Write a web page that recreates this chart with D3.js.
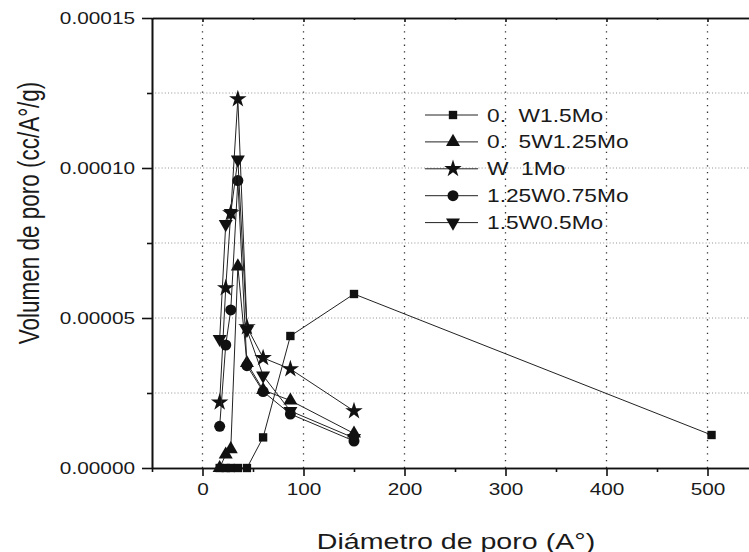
<!DOCTYPE html>
<html><head><meta charset="utf-8">
<script src="https://cdn.jsdelivr.net/npm/d3@7"></script>
<style>body{margin:0;background:#fff}svg{display:block}text{font-family:"Liberation Sans",Arial,sans-serif;fill:#1a1a1a}</style>
</head><body>
<script>
const poreDiameters = [17, 23, 28, 35, 44, 60, 87, 150, 504];
const seriesNames = ["0.  W1.5Mo", "0.  5W1.25Mo", "W  1Mo", "1.25W0.75Mo", "1.5W0.5Mo"];
const seriesSymbols = ["square", "triangle", "star", "circle", "triangleDown"];
const sW05Mo15   = [0, 0, 0, 0, 0, 1.02e-5, 4.4e-5, 5.8e-5, 1.1e-5];
const sW075Mo125 = [0, 4.5e-6, 6.3e-6, 6.72e-5, 3.5e-5, 2.6e-5, 2.25e-5, 1.15e-5];
const sW1Mo1     = [2.19e-5, 6.0e-5, 8.5e-5, 1.23e-4, 4.7e-5, 3.67e-5, 3.3e-5, 1.9e-5];
const sW125Mo075 = [1.39e-5, 4.1e-5, 5.27e-5, 9.58e-5, 3.41e-5, 2.55e-5, 1.8e-5, 9e-6];
const sW15Mo05   = [4.3e-5, 8.13e-5, 8.5e-5, 1.028e-4, 4.6e-5, 3.08e-5, 1.9e-5, 1.0e-5];
const seriesValues = [sW05Mo15, sW075Mo125, sW1Mo1, sW125Mo075, sW15Mo05];
const xMajorTicks = [0, 100, 200, 300, 400, 500];
const xMinorTicks = [-50, 50, 150, 250, 350, 450, 550];
const yMajorTicks = [0, 0.00005, 0.0001, 0.00015];
const yMinorTicks = [0.000025, 0.000075, 0.000125];
const xTitle = "Diámetro de poro (A°)";
const yTitle = "Volumen de poro (cc/A°/g)";

const W = 749, H = 552, SX = 1.3;
const svg = d3.select("body").append("svg").attr("width", W).attr("height", H);
const x = d3.scaleLinear().domain([-50, 550]).range([152, 758]);
const y = d3.scaleLinear().domain([0, 0.00015]).range([468, 18]);

// gridlines
const grid = svg.append("g");
grid.selectAll("line.hg").data(yMinorTicks.concat([0.00005, 0.0001])).join("line")
  .attr("x1", x(-50)).attr("x2", W).attr("y1", d => y(d)).attr("y2", d => y(d))
  .attr("stroke", "#777").attr("stroke-width", 0.8).attr("stroke-dasharray", "1,2.2");
grid.selectAll("line.vg").data(xMajorTicks).join("line")
  .attr("y1", y(0)).attr("y2", y(0.00015)).attr("x1", d => x(d)).attr("x2", d => x(d))
  .attr("stroke", "#333").attr("stroke-width", 1.3).attr("stroke-dasharray", "1.3,5.4");

// axes
const axStyle = g => {
  g.select(".domain").attr("stroke", "#111").attr("stroke-width", 1.6);
  g.selectAll(".tick line").attr("stroke", "#111").attr("stroke-width", 1.6);
  g.selectAll("text").attr("font-size", 16).attr("fill", "#1a1a1a").style("font-family", '"Liberation Sans",Arial,sans-serif');
};
svg.append("g").attr("transform", `translate(0,${y(0)})`)
  .call(d3.axisBottom(x).tickValues(xMajorTicks).tickSize(8).tickPadding(8).tickSizeOuter(0))
  .call(axStyle)
  .call(g => g.selectAll("text").attr("transform", `scale(${SX},1)`));
svg.append("g").attr("transform", `translate(0,${y(0)})`)
  .call(d3.axisBottom(x).tickValues(xMinorTicks).tickSize(4).tickFormat("").tickSizeOuter(0))
  .call(axStyle);
svg.append("g").attr("transform", `translate(0,${y(0.00015)})`)
  .call(d3.axisBottom(x).tickValues(xMajorTicks).tickSize(4).tickFormat("").tickSizeOuter(0))
  .call(axStyle);
svg.append("g").attr("transform", `translate(0,${y(0.00015)})`)
  .call(d3.axisBottom(x).tickValues(xMinorTicks).tickSize(2).tickFormat("").tickSizeOuter(0))
  .call(axStyle);
svg.append("g").attr("transform", `translate(${x(-50)},0)`)
  .call(d3.axisLeft(y).tickValues(yMajorTicks).tickSize(10).tickPadding(7).tickFormat(d3.format(".5f")).tickSizeOuter(0))
  .call(axStyle)
  .call(g => g.selectAll("text").attr("x", -17 / SX).attr("transform", `scale(${SX},1)`));
svg.append("g").attr("transform", `translate(${x(-50)},0)`)
  .call(d3.axisLeft(y).tickValues(yMinorTicks).tickSize(5).tickFormat("").tickSizeOuter(0))
  .call(axStyle);

// titles
svg.append("text").attr("transform", `translate(456,549) scale(${SX},1)`).attr("text-anchor", "middle").attr("font-size", 22).text(xTitle);
svg.append("text").attr("transform", `translate(39,213) scale(${SX},1) rotate(-90)`).attr("text-anchor", "middle").attr("font-size", 22.5).text(yTitle);

// symbols
const symMap = {
  square: d3.symbolSquare, triangle: d3.symbolTriangle, star: d3.symbolStar,
  circle: d3.symbolCircle, triangleDown: d3.symbolTriangle
};
const symSize = {square: 70, triangle: 85, star: 95, circle: 95, triangleDown: 85};
function symPath(s) { return d3.symbol().type(symMap[s]).size(symSize[s])(); }
function symTransform(s, px, py) { return `translate(${px},${py})` + (s === "triangleDown" ? " rotate(180)" : ""); }

const line = d3.line().x(d => x(d[0])).y(d => y(d[1]));
seriesValues.forEach((vals, i) => {
  const pts = vals.map((v, j) => [poreDiameters[j], v]);
  const g = svg.append("g");
  g.append("path").attr("d", line(pts)).attr("fill", "none").attr("stroke", "#222").attr("stroke-width", 1);
  g.selectAll("path.m").data(pts).join("path").attr("class", "m")
    .attr("d", symPath(seriesSymbols[i]))
    .attr("transform", d => symTransform(seriesSymbols[i], x(d[0]), y(d[1])))
    .attr("fill", "#111");
});

// legend
const leg = svg.append("g");
seriesNames.forEach((name, i) => {
  const ly = 115 + i * 26.9;
  leg.append("line").attr("x1", 425).attr("x2", 478).attr("y1", ly).attr("y2", ly).attr("stroke", "#222").attr("stroke-width", 1);
  leg.append("path").attr("d", symPath(seriesSymbols[i])).attr("transform", symTransform(seriesSymbols[i], 453, ly)).attr("fill", "#111");
  leg.append("text").attr("transform", `translate(487,${ly + 6.5}) scale(${SX},1)`).attr("font-size", 17.5).style("white-space", "pre").text(name);
});
</script>
</body></html>
